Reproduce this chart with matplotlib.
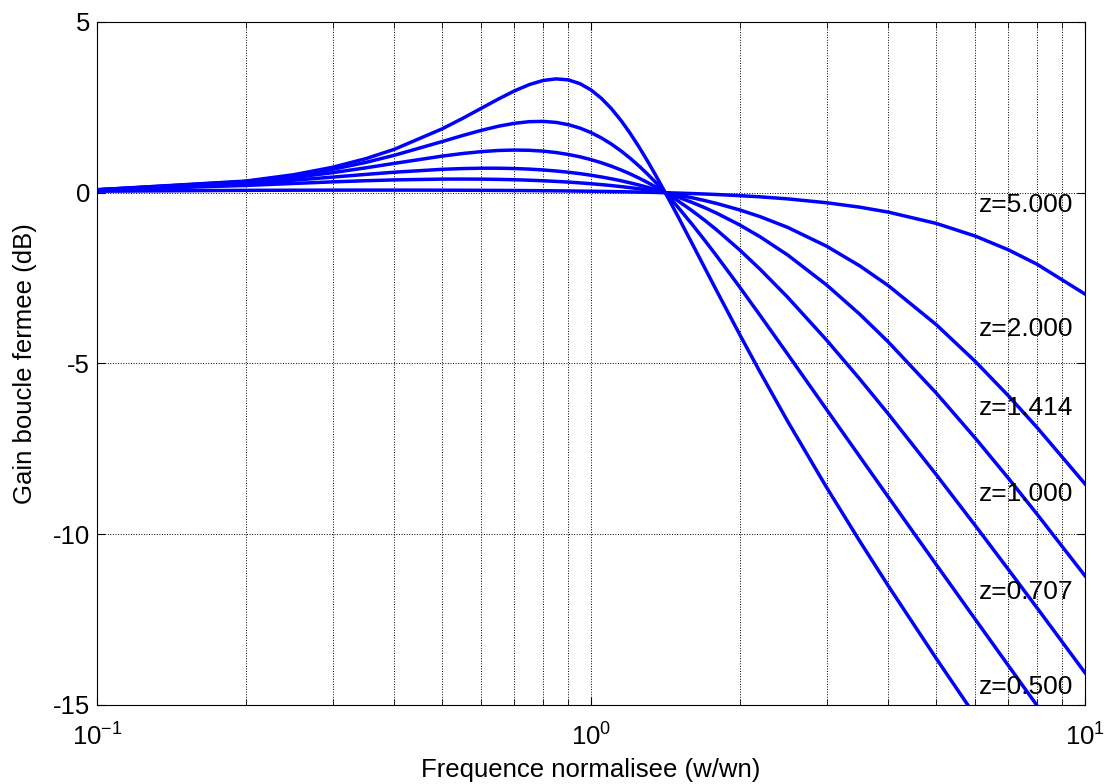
import matplotlib
matplotlib.use("Agg")
import matplotlib.pyplot as plt
from matplotlib.ticker import LogLocator, LogFormatterSciNotation, NullFormatter

plt.rcParams["font.family"] = ["Liberation Sans", "DejaVu Sans"]
plt.rcParams["mathtext.default"] = "regular"
plt.rcParams["axes.unicode_minus"] = False

# normalised frequency w/wn
freq = [0.1, 0.2, 0.25, 0.3, 0.35, 0.4, 0.5, 0.55, 0.6, 0.65, 0.7, 0.75, 0.8, 0.85,
        0.9, 0.95, 1.0, 1.05, 1.1, 1.15, 1.2, 1.25, 1.3, 1.35, 1.4142, 1.5, 1.6, 1.7,
        1.8, 2.0, 2.2, 2.5, 3.0, 3.5, 4.0, 5.0, 6.0, 7.0, 8.0, 10.0]

# closed-loop gain (dB) for each damping ratio z
gain_z0500 = [0.086, 0.340, 0.526, 0.745, 0.996, 1.271, 1.871, 2.177, 2.473, 2.745,
              2.981, 3.165, 3.286, 3.333, 3.303, 3.193, 3.010, 2.762, 2.461, 2.117,
              1.743, 1.348, 0.941, 0.529, 0.0, -0.693, -1.470, -2.204, -2.895, -4.150,
              -5.255, -6.688, -8.633, -10.202, -11.516, -13.639, -15.325, -16.726,
              -17.927, -19.913]
gain_z0707 = [0.086, 0.327, 0.495, 0.684, 0.887, 1.096, 1.498, 1.675, 1.826, 1.947,
              2.032, 2.080, 2.088, 2.059, 1.992, 1.892, 1.761, 1.604, 1.424, 1.225,
              1.012, 0.787, 0.553, 0.313, 0.0, -0.423, -0.914, -1.397, -1.867, -2.762,
              -3.593, -4.724, -6.351, -7.726, -8.914, -10.890, -12.496, -13.849,
              -15.019, -16.968]
gain_z1000 = [0.084, 0.304, 0.443, 0.587, 0.728, 0.859, 1.072, 1.148, 1.203, 1.237,
              1.249, 1.242, 1.218, 1.176, 1.120, 1.051, 0.969, 0.877, 0.776, 0.667,
              0.552, 0.430, 0.304, 0.173, 0.0, -0.238, -0.521, -0.809, -1.099, -1.675,
              -2.241, -3.057, -4.318, -5.455, -6.480, -8.256, -9.750, -11.035,
              -12.159, -14.055]
gain_z1414 = [0.081, 0.266, 0.366, 0.457, 0.536, 0.600, 0.685, 0.707, 0.717, 0.717,
              0.708, 0.691, 0.666, 0.636, 0.599, 0.558, 0.512, 0.461, 0.407, 0.350,
              0.289, 0.226, 0.160, 0.091, 0.0, -0.127, -0.281, -0.440, -0.604, -0.943,
              -1.291, -1.821, -2.702, -3.557, -4.372, -5.867, -7.189, -8.363,
              -9.413, -11.217]
gain_z2000 = [0.075, 0.213, 0.271, 0.317, 0.351, 0.375, 0.398, 0.400, 0.397, 0.390,
              0.380, 0.366, 0.350, 0.331, 0.311, 0.288, 0.263, 0.237, 0.209, 0.179,
              0.148, 0.116, 0.082, 0.047, 0.0, -0.066, -0.146, -0.230, -0.318, -0.504,
              -0.701, -1.014, -1.567, -2.141, -2.722, -3.863, -4.943, -5.948,
              -6.876, -8.525]
gain_z5000 = [0.043, 0.069, 0.073, 0.075, 0.076, 0.076, 0.074, 0.072, 0.070, 0.067,
              0.065, 0.062, 0.059, 0.055, 0.051, 0.047, 0.043, 0.039, 0.034, 0.029,
              0.024, 0.019, 0.013, 0.008, 0.0, -0.011, -0.024, -0.038, -0.053, -0.086,
              -0.121, -0.180, -0.294, -0.423, -0.569, -0.899, -1.271, -1.673,
              -2.095, -2.967]

curves = [gain_z0500, gain_z0707, gain_z1000, gain_z1414, gain_z2000, gain_z5000]

label_text = ["z=5.000", "z=2.000", "z=1.414", "z=1.000", "z=0.707", "z=0.500"]
label_y = [-0.35, -4.0, -6.29, -8.83, -11.7, -14.47]

fig = plt.figure(figsize=(11.08, 7.84), dpi=100)
ax = fig.add_axes([0.0875, 0.1008, 0.8917, 0.8712])

for g in curves:
    ax.semilogx(freq, g, color=(0, 0, 1), lw=2.5, solid_joinstyle="round")

for txt, y in zip(label_text, label_y):
    ax.text(6.1, y, txt, fontsize=19, va="center", ha="left", color="k")

ax.set_xlim(0.1, 10)
ax.set_ylim(-15, 5)
ax.set_yticks([-15, -10, -5, 0, 5])
ax.xaxis.set_major_locator(LogLocator(base=10))
ax.xaxis.set_major_formatter(LogFormatterSciNotation(base=10))
ax.xaxis.set_minor_locator(LogLocator(base=10, subs=range(2, 10)))
ax.xaxis.set_minor_formatter(NullFormatter())

ax.grid(True, which="both", axis="x", color="k", ls=":", lw=0.7)
ax.grid(True, which="major", axis="y", color="k", ls=":", lw=0.7)

ax.tick_params(which="both", direction="in", top=True, right=True, labelsize=18.5)
ax.tick_params(which="major", length=6)
ax.tick_params(which="minor", length=4)
ax.tick_params(axis="x", pad=13)
ax.tick_params(axis="y", pad=5)
for s in ax.spines.values():
    s.set_linewidth(0.8)

ax.set_xlabel("Frequence normalisee (w/wn)", fontsize=18.5)
ax.set_ylabel("Gain boucle fermee (dB)", fontsize=18.5)
ax.xaxis.set_label_coords(0.5, -0.078)
ax.yaxis.set_label_coords(-0.061, 0.5)

fig.savefig("out.png", dpi=100)
